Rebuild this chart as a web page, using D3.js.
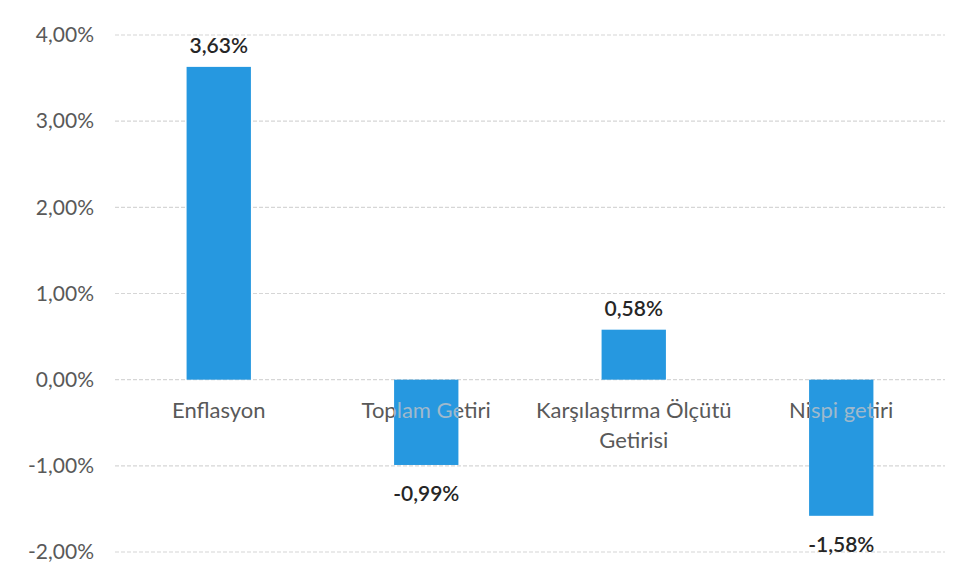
<!DOCTYPE html>
<html><head><meta charset="utf-8">
<script src="https://cdn.jsdelivr.net/npm/d3@7"></script>
<style>body{margin:0;background:#fff}svg{display:block}</style>
</head><body>
<svg id="c" width="967" height="582"></svg>
<script>
const categories = [["Enflasyon"], ["Toplam Getiri"], ["Karşılaştırma Ölçütü", "Getirisi"], ["Nispi getiri"]];
const values = [3.63, -0.99, 0.58, -1.58];
const tickValues = [-2, -1, 0, 1, 2, 3, 4];

const svg = d3.select("#c");
const font = "Lato, 'Open Sans', sans-serif";
const margin = {left: 115, right: 22, top: 35, bottom: 30};
const W = 967, H = 582;
const x = d3.scaleBand().domain(d3.range(values.length)).range([margin.left, W - margin.right]).paddingInner(0.69).paddingOuter(0.345);
const y = d3.scaleLinear().domain([-2, 4]).range([552, 35]);
const fmt = v => d3.format(".2f")(v).replace(".", ",").replace("\u2212", "-") + "%";

// gridlines
svg.append("g").selectAll("line").data(tickValues).join("line")
  .attr("x1", margin.left).attr("x2", W - margin.right)
  .attr("y1", d => y(d)).attr("y2", d => y(d))
  .attr("stroke", "#d6d6d6").attr("stroke-width", 1.2).attr("stroke-dasharray", "4,2");

// y axis labels
const yAxis = d3.axisLeft(y).tickValues(tickValues).tickFormat(fmt).tickSize(0).tickPadding(0);
const ya = svg.append("g").attr("transform", "translate(94,0)").call(yAxis);
ya.select(".domain").remove();
ya.selectAll("text").attr("font-family", font).attr("font-size", 21).attr("fill", "#595959");

// category labels
function drawCats(g, color) {
  const t = g.selectAll("text").data(categories).join("text")
    .attr("x", (d, i) => x(i) + x.bandwidth() / 2)
    .attr("y", 418)
    .attr("text-anchor", "middle")
    .attr("font-family", font).attr("font-size", 22).attr("fill", color);
  t.selectAll("tspan").data(d => d).join("tspan")
    .attr("x", function () { return this.parentNode.getAttribute("x"); })
    .attr("dy", (d, i) => i === 0 ? 0 : 30)
    .text(d => d);
}
drawCats(svg.append("g"), "#595959");

// bars
const barColor = "#2698e0";
svg.append("g").selectAll("rect").data(values).join("rect")
  .attr("x", (d, i) => x(i)).attr("width", x.bandwidth())
  .attr("y", d => y(Math.max(0, d))).attr("height", d => Math.abs(y(d) - y(0)))
  .attr("fill", barColor);

// lighter label text over bars
const defs = svg.append("defs");
const cp = defs.append("clipPath").attr("id", "barclip");
cp.selectAll("rect").data(values).join("rect")
  .attr("x", (d, i) => x(i)).attr("width", x.bandwidth())
  .attr("y", d => y(Math.max(0, d))).attr("height", d => Math.abs(y(d) - y(0)));
drawCats(svg.append("g").attr("clip-path", "url(#barclip)"), "#9fb9cc");

// value labels
svg.append("g").selectAll("text").data(values).join("text")
  .attr("x", (d, i) => x(i) + x.bandwidth() / 2)
  .attr("y", d => d >= 0 ? y(d) - 14 : y(d) + 36)
  .attr("text-anchor", "middle")
  .attr("font-family", font).attr("font-size", 21).attr("font-weight", 600)
  .attr("fill", "#262626")
  .text(fmt);
</script>
</body></html>
